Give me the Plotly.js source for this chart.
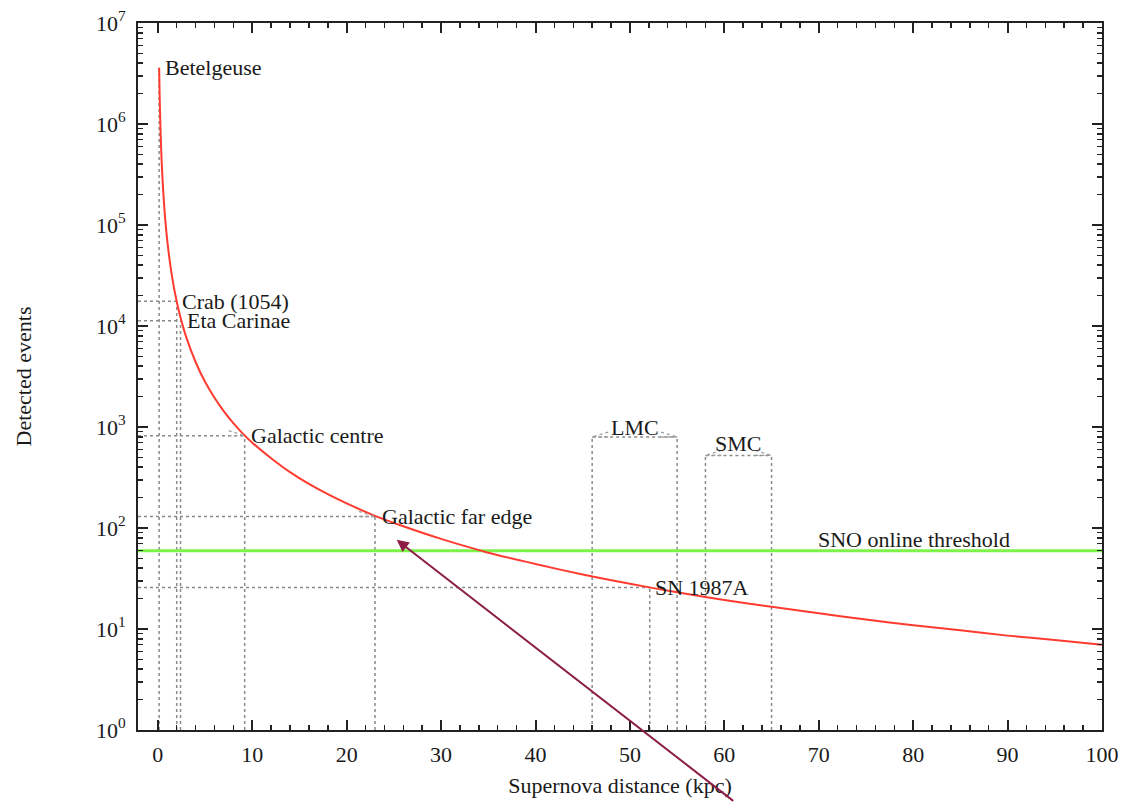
<!DOCTYPE html>
<html>
<head>
<meta charset="utf-8">
<script src="https://cdn.plot.ly/plotly-3.0.1.min.js"></script>
<style>
html,body{margin:0;padding:0;background:#fff;}
#chart{width:1125px;height:802px;}
</style>
</head>
<body>
<div id="chart"></div>
<script>
// Curve: detected events vs supernova distance (kpc)
const curveX = [0.14, 0.2, 0.3, 0.4, 0.5, 0.7, 1, 1.5, 2, 2.5, 3, 4, 5, 6, 7, 8, 9, 10, 12, 14, 16, 18, 20, 23, 26, 30, 35, 40, 45, 50, 55, 60, 65, 70, 75, 80, 85, 90, 95, 100];
const curveY = [3.6e6, 1.75e6, 7.8e5, 4.4e5, 2.8e5, 1.43e5, 7.0e4, 3.1e4, 1.75e4, 1.12e4, 7800, 4400, 2800, 1950, 1430, 1090, 860, 700, 490, 357, 273, 216, 175, 132, 104, 78, 57, 44, 34.6, 28, 23.1, 19.4, 16.6, 14.3, 12.4, 10.9, 9.7, 8.6, 7.8, 7.0];

// Individual objects (horizontal + vertical dotted guides)
const objNames  = ['Crab (1054)', 'Eta Carinae', 'Galactic centre', 'Galactic far edge', 'SN 1987A'];
const objDist   = [2.0, 2.4, 9.2, 23.0, 52.1];
const objEvents = [17600, 11300, 820, 130, 25.7];
const objArrow  = [false, false, true, true, false];
const objShift  = [3, 5, 4, 5, 3];

// Betelgeuse (vertical guide only)
const betelName = 'Betelgeuse';
const betelDist = 0.14;
const betelEvents = 3.6e6;

// Magellanic clouds (distance ranges)
const cloudNames  = ['LMC', 'SMC'];
const cloudNear   = [46, 58];
const cloudFar    = [55, 65];
const cloudEvents = [796, 523];
const cloudLift   = [10, 12];

// Threshold
const thresholdName = 'SNO online threshold';
const thresholdEvents = 59.4;
const thresholdLabelX = 90.5;

// Axes
const xRange = [-2.1, 100];
const yDecades = [0, 1, 2, 3, 4, 5, 6, 7];
const yTickVals = yDecades.map(d => Math.pow(10, d));
const yTickText = yDecades.map(d => '10<sup>' + d + '</sup>');
const xTickVals = [0, 10, 20, 30, 40, 50, 60, 70, 80, 90, 100];

// Annotation arrow (points at curve near far edge)
const arrowHead = {x: 25.3, y: 76.4};

const guideColor = '#8a8a8a';
const guideLine = {color: guideColor, width: 1.5, dash: 'dot'};
const fontFam = '"Liberation Serif", "Times New Roman", serif';
const textColor = '#1a1a1a';

const traces = [];
const shapes = [];
const annotations = [];

// Betelgeuse vertical guide
traces.push({x: [betelDist, betelDist], y: [1, betelEvents], mode: 'lines', line: guideLine, hoverinfo: 'skip'});
annotations.push({x: betelDist, y: Math.log10(betelEvents), xref: 'x', yref: 'y', text: betelName, showarrow: false, xanchor: 'left', yanchor: 'middle', xshift: 4, font: {family: fontFam, size: 22, color: textColor}});

// Objects
objNames.forEach((n, i) => {
  traces.push({x: [xRange[0], objDist[i]], y: [objEvents[i], objEvents[i]], mode: 'lines', line: guideLine, hoverinfo: 'skip'});
  traces.push({x: [objDist[i], objDist[i]], y: [1, objEvents[i]], mode: 'lines', line: guideLine, hoverinfo: 'skip'});
  if (objArrow[i]) {
    [5, -5].forEach(dy => shapes.push({type: 'line', xref: 'x', yref: 'y', xsizemode: 'pixel', ysizemode: 'pixel', xanchor: objDist[i], yanchor: objEvents[i], x0: -16, y0: dy, x1: 0, y1: 0, line: {color: '#a0a0a0', width: 1.3, dash: 'dot'}}));
  }
  annotations.push({x: objDist[i], y: Math.log10(objEvents[i]), xref: 'x', yref: 'y', text: n, showarrow: false, xanchor: 'left', yanchor: 'middle', xshift: objShift[i], font: {family: fontFam, size: 22, color: textColor}});
});

// Clouds
cloudNames.forEach((n, i) => {
  traces.push({x: [cloudNear[i], cloudNear[i]], y: [1, cloudEvents[i]], mode: 'lines', line: guideLine, hoverinfo: 'skip'});
  traces.push({x: [cloudFar[i], cloudFar[i]], y: [1, cloudEvents[i]], mode: 'lines', line: guideLine, hoverinfo: 'skip'});
  traces.push({x: [cloudNear[i], cloudFar[i]], y: [cloudEvents[i], cloudEvents[i]], mode: 'lines', line: guideLine, hoverinfo: 'skip'});
  [5, -5].forEach(dy => {
    shapes.push({type: 'line', xref: 'x', yref: 'y', xsizemode: 'pixel', ysizemode: 'pixel', xanchor: cloudNear[i], yanchor: cloudEvents[i], x0: 16, y0: dy, x1: 0, y1: 0, line: {color: '#a0a0a0', width: 1.3, dash: 'dot'}});
    shapes.push({type: 'line', xref: 'x', yref: 'y', xsizemode: 'pixel', ysizemode: 'pixel', xanchor: cloudFar[i], yanchor: cloudEvents[i], x0: -16, y0: dy, x1: 0, y1: 0, line: {color: '#a0a0a0', width: 1.3, dash: 'dot'}});
  });
  annotations.push({x: (cloudNear[i] + cloudFar[i]) / 2, y: Math.log10(cloudEvents[i]), xref: 'x', yref: 'y', text: n, showarrow: false, xanchor: 'center', yanchor: 'middle', yshift: cloudLift[i], font: {family: fontFam, size: 22, color: textColor}});
});

// Threshold
traces.push({x: [xRange[0], xRange[1]], y: [thresholdEvents, thresholdEvents], mode: 'lines', line: {color: '#7cf24a', width: 3}, hoverinfo: 'skip'});
annotations.push({x: thresholdLabelX, y: Math.log10(thresholdEvents), xref: 'x', yref: 'y', text: thresholdName, showarrow: false, xanchor: 'right', yanchor: 'middle', yshift: 11, font: {family: fontFam, size: 22, color: textColor}});

// Curve
traces.push({x: curveX, y: curveY, mode: 'lines', line: {color: '#ff3b30', width: 2, shape: 'spline', smoothing: 0.6}, hoverinfo: 'skip'});

// Maroon annotation arrow
annotations.push({x: arrowHead.x, y: Math.log10(arrowHead.y), xref: 'x', yref: 'y', text: '', showarrow: true, arrowhead: 2, arrowsize: 1.2, arrowwidth: 2, arrowcolor: '#8b1d47', ax: 338, ay: 264, axref: 'pixel', ayref: 'pixel'});

const axisCommon = {
  showline: true, linecolor: '#222', linewidth: 2, mirror: 'ticks',
  ticks: 'inside', ticklen: 10, tickwidth: 2, tickcolor: '#222',
  showgrid: false, zeroline: false,
  tickfont: {family: fontFam, size: 22, color: textColor}
};

const layout = {
  width: 1125, height: 802,
  margin: {l: 138, r: 23, t: 23, b: 72},
  paper_bgcolor: '#fff', plot_bgcolor: '#fff',
  showlegend: false,
  xaxis: Object.assign({}, axisCommon, {
    range: xRange, tickvals: xTickVals, ticklabelstandoff: 4,
    minor: {ticks: 'inside', ticklen: 5, tickwidth: 1.5, tickcolor: '#222', dtick: 2, tick0: 0, showgrid: false},
    title: {text: 'Supernova distance (kpc)', font: {family: fontFam, size: 22, color: textColor}, standoff: 11}
  }),
  yaxis: Object.assign({}, axisCommon, {
    type: 'log', range: [0, 7], tickvals: yTickVals, ticktext: yTickText, ticklabelstandoff: 6,
    minor: {ticks: 'inside', ticklen: 5, tickwidth: 1.5, tickcolor: '#222', dtick: 'D1', showgrid: false},
    title: {text: 'Detected events', font: {family: fontFam, size: 22, color: textColor}, standoff: 58}
  }),
  shapes: shapes,
  annotations: annotations
};

Plotly.newPlot('chart', traces, layout, {staticPlot: true, displayModeBar: false});
</script>
</body>
</html>
